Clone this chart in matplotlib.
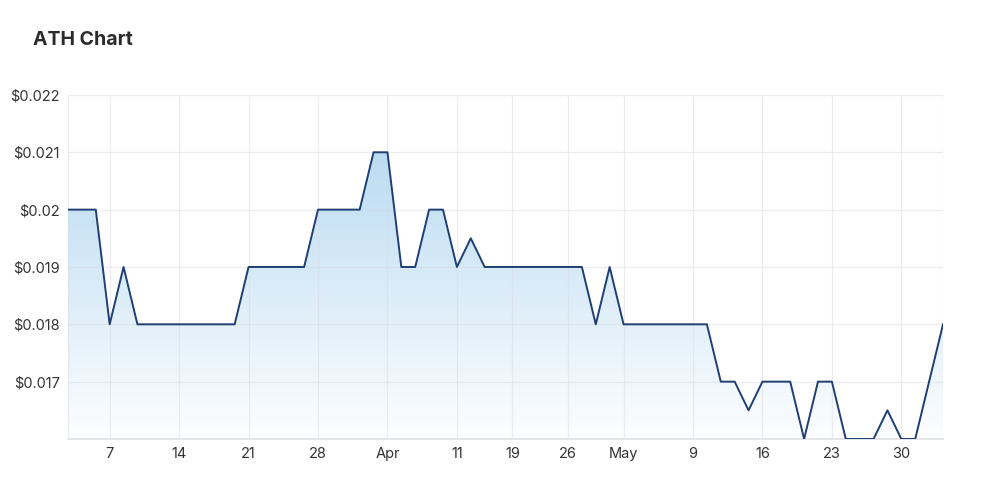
import numpy as np
import matplotlib
matplotlib.use("Agg")
import matplotlib.pyplot as plt
from matplotlib.colors import LinearSegmentedColormap
from matplotlib.ticker import FixedLocator

plt.rcParams['font.family'] = ['Inter', 'DejaVu Sans']

# closing prices, one per trading day
prices = [0.020, 0.020, 0.020, 0.018, 0.019, 0.018, 0.018, 0.018, 0.018, 0.018,
          0.018, 0.018, 0.018, 0.019, 0.019, 0.019, 0.019, 0.019, 0.020, 0.020,
          0.020, 0.020, 0.021, 0.021, 0.019, 0.019, 0.020, 0.020, 0.019, 0.0195,
          0.019, 0.019, 0.019, 0.019, 0.019, 0.019, 0.019, 0.019, 0.018, 0.019,
          0.018, 0.018, 0.018, 0.018, 0.018, 0.018, 0.018, 0.017, 0.017, 0.0165,
          0.017, 0.017, 0.017, 0.016, 0.017, 0.017, 0.016, 0.016, 0.016, 0.0165,
          0.016, 0.016, 0.017, 0.018]

tick_pos = [3, 8, 13, 18, 23, 28, 32, 36, 40, 45, 50, 55, 60]
tick_labels = ['7', '14', '21', '28', 'Apr', '11', '19', '26', 'May', '9', '16', '23', '30']

y_ticks = [0.017, 0.018, 0.019, 0.020, 0.021, 0.022]
y_labels = ['$0.017', '$0.018', '$0.019', '$0.02', '$0.021', '$0.022']

x = np.arange(len(prices))
y = np.array(prices)
ymin, ymax = 0.016, 0.022

fig = plt.figure(figsize=(10, 4.87), dpi=100)
ax = fig.add_axes([0.068, 0.0986, 0.875, 0.7064])

# gradient fill under the line
cmap = LinearSegmentedColormap.from_list('fade', ['#fdfeff', '#badbf2'])
grad = np.linspace(0, 1, 256).reshape(-1, 1)
img = ax.imshow(grad, aspect='auto', cmap=cmap, origin='lower',
                extent=[x[0], x[-1], ymin, 0.0211], zorder=1)
poly = ax.fill_between(x, y, ymin, color='none')
clip = poly.get_paths()[0]
img.set_clip_path(clip, transform=ax.transData)

ax.plot(x, y, color='#1f3f73', lw=1.4, zorder=3)

ax.set_xlim(x[0], x[-1])
ax.set_ylim(ymin, ymax)
ax.yaxis.set_major_locator(FixedLocator(y_ticks))
ax.set_yticklabels(y_labels)
ax.set_xticks(tick_pos)
ax.set_xticklabels(tick_labels)

ax.grid(True, color='#d8d8e0', alpha=0.45, lw=0.9, zorder=2)
ax.set_axisbelow(False)
for side in ['top', 'left', 'right']:
    ax.spines[side].set_visible(False)
ax.spines['bottom'].set_color('#e2e2e6')
ax.spines['bottom'].set_linewidth(1.2)
ax.axvline(x[0], color='#d8d8e0', alpha=0.45, lw=0.9, zorder=2)
ax.axvline(x[-1], color='#d8d8e0', alpha=0.45, lw=0.9, zorder=2)
ax.tick_params(axis='both', length=0, labelsize=10.5, colors='#333333')
ax.tick_params(axis='y', pad=6)
ax.tick_params(axis='x', pad=6)

fig.text(0.033, 0.918, 'ATH Chart', fontsize=14, fontweight='bold', color='#2b2b2b',
         ha='left', va='center')

fig.savefig('out.png', dpi=100, facecolor='white')
